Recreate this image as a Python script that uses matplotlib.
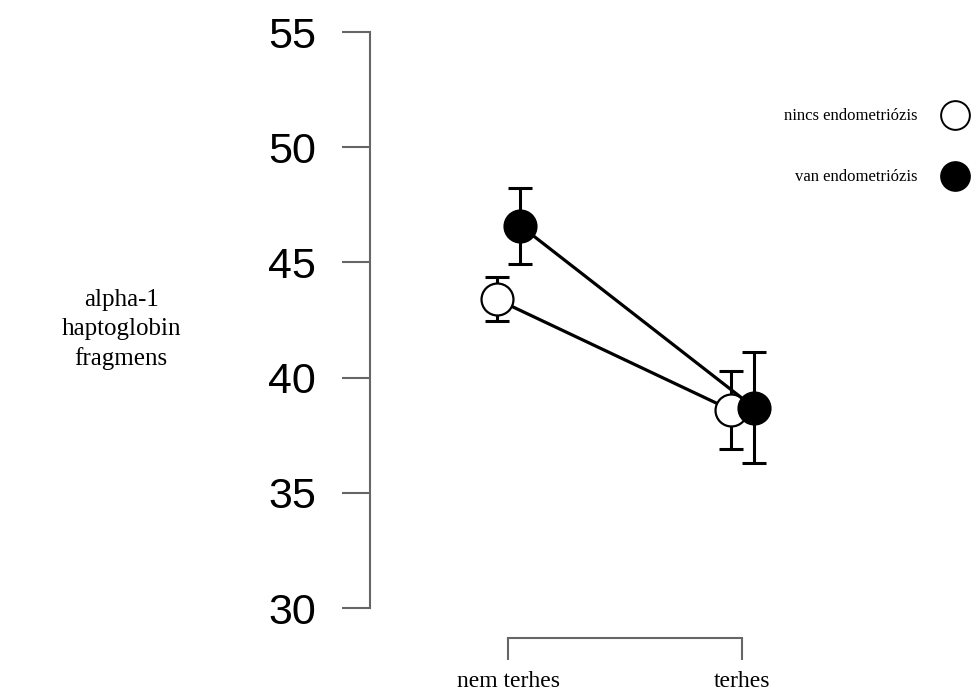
import numpy as np
import matplotlib.pyplot as plt

plt.rcParams['font.family'] = ['Liberation Serif', 'DejaVu Serif']

# data (mean +/- error)
groups = ['nem terhes', 'terhes']
series = ['nincs endometriózis', 'van endometriózis']
nincs_mean = [43.4, 38.6]
nincs_err = [0.95, 1.7]
van_mean = [46.6, 38.7]
van_err = [1.65, 2.4]
yticks = [30, 35, 40, 45, 50, 55]

x = np.arange(len(groups))
dodge = 0.05

fig = plt.figure(figsize=(9.71, 6.91), dpi=100)
ax = fig.add_axes([370 / 971, 53 / 691, 601 / 971, 638 / 691])

styles = [('white', -dodge, nincs_mean, nincs_err), ('black', dodge, van_mean, van_err)]
for i, (face, off, mean, err) in enumerate(styles):
    z = 2 + i * 3
    ax.plot(x + off, mean, color='black', lw=2.3, zorder=z)
    ax.errorbar(x + off, mean, yerr=err, fmt='none', ecolor='black',
                elinewidth=2.2, capsize=8.5, capthick=2.2, zorder=z + 1)
    ax.plot(x + off, mean, 'o', ms=23, mfc=face, mec='black', mew=1.6,
            ls='none', zorder=z + 2, label=series[i])

ax.set_xlim(-0.592, 1.977)
ax.set_ylim(28.70, 56.39)
ax.set_yticks(yticks)
ax.set_xticks(x)
ax.set_xticklabels(groups)

for s in ['top', 'right']:
    ax.spines[s].set_visible(False)
ax.spines['left'].set_bounds(30, 55)
ax.spines['bottom'].set_bounds(0, 1)
for s in ['left', 'bottom']:
    ax.spines[s].set_color('#666666')
    ax.spines[s].set_linewidth(1.5)

ax.tick_params(axis='y', length=20, width=1.5, color='#666666', pad=19, labelsize=31)
ax.tick_params(axis='x', length=16, width=1.5, color='#666666', pad=8, labelsize=17)
for lbl in ax.get_yticklabels():
    lbl.set_fontfamily('Liberation Sans')

ax.set_ylabel('alpha-1\nhaptoglobin\nfragmens', rotation=0, fontsize=18,
              ha='center', va='center', linespacing=1.4)
ax.yaxis.set_label_coords(-0.414, 0.483)

leg = ax.legend(loc='upper left', bbox_to_anchor=(776 / 971, 591 / 691),
                bbox_transform=fig.transFigure, frameon=False, markerfirst=False,
                fontsize=12, markerscale=0.9, handlelength=1.2,
                handletextpad=1.6, labelspacing=2.7, borderpad=0)
for h in leg.legend_handles:
    h.set_markeredgewidth(1.4)

fig.savefig('out.png', dpi=100)
